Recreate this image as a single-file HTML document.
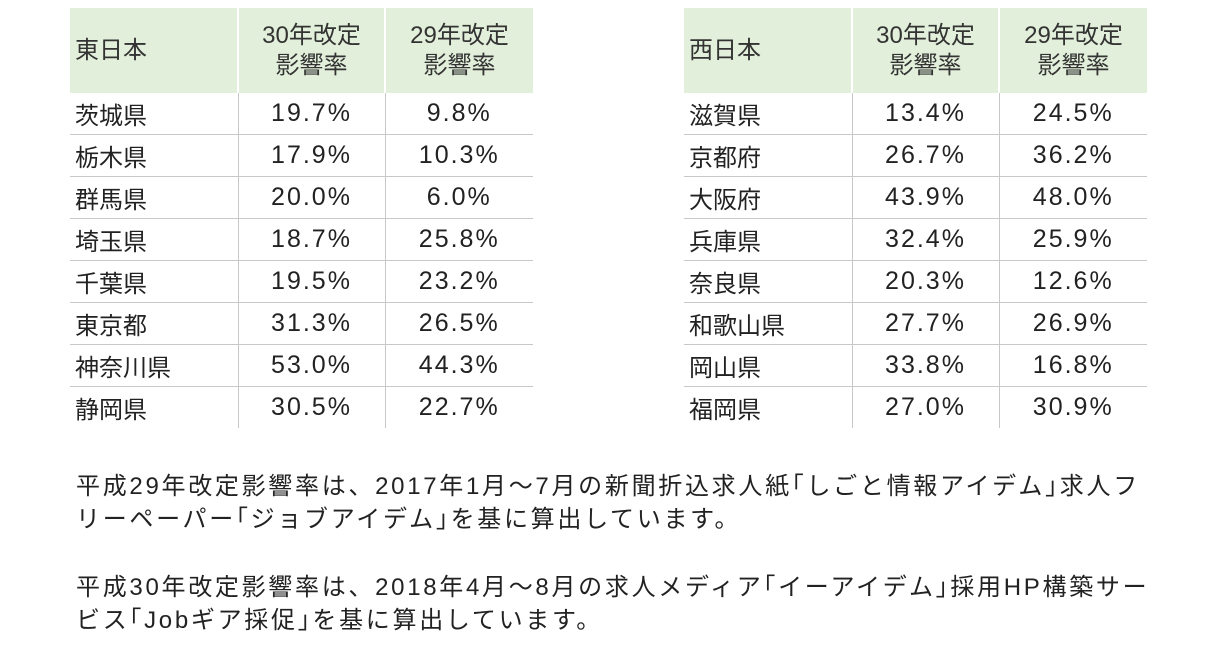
<!DOCTYPE html>
<html><head><meta charset="utf-8"><style>
body{margin:0;width:1228px;height:652px;background:#fff;font-family:"Liberation Sans","Noto Sans CJK JP",sans-serif;color:#222;overflow:hidden;position:relative}
table{position:absolute;top:8px;border-collapse:collapse;font-size:24px}
th{background:#e2efda;font-weight:normal;height:85px;padding:0;border-right:2px solid #fff;line-height:30px;color:#333}
th:last-child{border-right:none}
td{height:41px;padding:0;border-bottom:1px solid #c8c8c8;border-right:1px solid #c8c8c8;text-align:center;letter-spacing:2px;font-size:25px}
td:first-child{text-align:left;padding-left:5px;letter-spacing:0;font-size:24px}
td:last-child{border-right:none}
tr:last-child td{border-bottom:none}
th:first-child{text-align:left;padding-left:5px}
.p{position:absolute;left:76px;font-size:24px;line-height:33px;width:1120px;letter-spacing:2.7px}
</style></head><body>
<table style="left:70px;width:463px">
<colgroup><col style="width:168px"><col style="width:147px"><col style="width:148px"></colgroup>
<tr><th>東日本</th><th>30年改定<br>影響率</th><th>29年改定<br>影響率</th></tr>
<tr><td>茨城県</td><td>19.7%</td><td>9.8%</td></tr>
<tr><td>栃木県</td><td>17.9%</td><td>10.3%</td></tr>
<tr><td>群馬県</td><td>20.0%</td><td>6.0%</td></tr>
<tr><td>埼玉県</td><td>18.7%</td><td>25.8%</td></tr>
<tr><td>千葉県</td><td>19.5%</td><td>23.2%</td></tr>
<tr><td>東京都</td><td>31.3%</td><td>26.5%</td></tr>
<tr><td>神奈川県</td><td>53.0%</td><td>44.3%</td></tr>
<tr><td>静岡県</td><td>30.5%</td><td>22.7%</td></tr>
</table>
<table style="left:684px;width:463px">
<colgroup><col style="width:168px"><col style="width:147px"><col style="width:148px"></colgroup>
<tr><th>西日本</th><th>30年改定<br>影響率</th><th>29年改定<br>影響率</th></tr>
<tr><td>滋賀県</td><td>13.4%</td><td>24.5%</td></tr>
<tr><td>京都府</td><td>26.7%</td><td>36.2%</td></tr>
<tr><td>大阪府</td><td>43.9%</td><td>48.0%</td></tr>
<tr><td>兵庫県</td><td>32.4%</td><td>25.9%</td></tr>
<tr><td>奈良県</td><td>20.3%</td><td>12.6%</td></tr>
<tr><td>和歌山県</td><td>27.7%</td><td>26.9%</td></tr>
<tr><td>岡山県</td><td>33.8%</td><td>16.8%</td></tr>
<tr><td>福岡県</td><td>27.0%</td><td>30.9%</td></tr>
</table>
<div class="p" style="top:470px">平成29年改定影響率は、2017年1月～7月の新聞折込求人紙｢しごと情報アイデム｣求人フ<br>リーペーパー｢ジョブアイデム｣を基に算出しています。</div>
<div class="p" style="top:571px">平成30年改定影響率は、2018年4月～8月の求人メディア｢イーアイデム｣採用HP構築サー<br>ビス｢Jobギア採促｣を基に算出しています。</div>
</body></html>
